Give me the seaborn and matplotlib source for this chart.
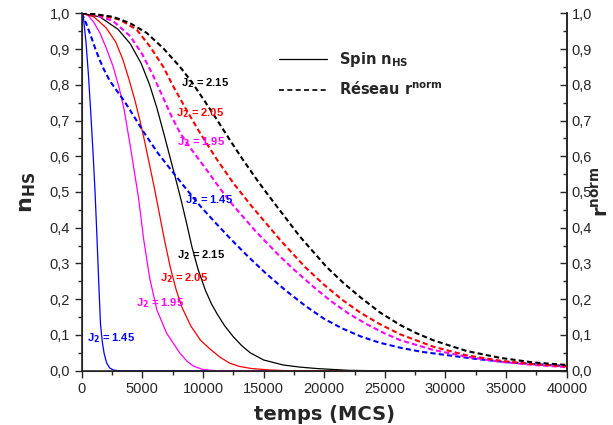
import matplotlib
matplotlib.use("Agg")
import matplotlib.pyplot as plt
from matplotlib.lines import Line2D
from matplotlib.ticker import FuncFormatter, MultipleLocator
import seaborn as sns

# spin curves (solid)
spin_145_t = [0, 150, 350, 550, 750, 950, 1100, 1250, 1400, 1550, 1700, 1850, 2050, 2300, 2600, 3000, 40000]
spin_145_n = [1.0, 0.985, 0.92, 0.83, 0.72, 0.6, 0.5, 0.38, 0.25, 0.13, 0.08, 0.048, 0.022, 0.008, 0.002, 0.0, 0.0]

spin_195_t = [0, 500, 1000, 1500, 2000, 2600, 3100, 3500, 4000, 4350, 4700, 5100, 5600, 6200, 7000, 8100,
              8700, 9200, 10000, 11000, 40000]
spin_195_n = [1.0, 0.995, 0.975, 0.945, 0.905, 0.85, 0.79, 0.73, 0.63, 0.555, 0.48, 0.37, 0.26, 0.17, 0.105, 0.049,
              0.026, 0.013, 0.003, 0.0, 0.0]

spin_205_t = [0, 1000, 2000, 2800, 3400, 3900, 4400, 4800, 5200, 5600, 6000, 6400, 6800, 7300, 7800, 8300,
              9000, 9800, 10600, 11400, 12200, 13000, 14000, 15500, 17000, 40000]
spin_205_n = [1.0, 0.99, 0.96, 0.92, 0.87, 0.815, 0.755, 0.7, 0.64, 0.575, 0.51, 0.44, 0.37, 0.29, 0.225, 0.175,
              0.125, 0.085, 0.06, 0.038, 0.021, 0.012, 0.006, 0.002, 0.0, 0.0]

spin_215_t = [0, 1500, 3000, 4000, 4900, 5600, 6200, 6800, 7300, 7800, 8250, 8700, 9100, 9600, 10200, 10700,
              11200, 11800, 12500, 13200, 13900, 15000, 16600, 18000, 19400, 22000, 24000, 40000]
spin_215_n = [1.0, 0.99, 0.955, 0.915, 0.86, 0.8, 0.735, 0.66, 0.595, 0.53, 0.47, 0.405, 0.345, 0.283, 0.225, 0.187,
              0.157, 0.125, 0.095, 0.07, 0.05, 0.03, 0.016, 0.01, 0.006, 0.001, 0.0, 0.0]

# lattice curves (dashed)
res_145_t = [0, 250, 500, 800, 1100, 1450, 1800, 2300, 2900, 3500, 4300, 5100, 6300, 7570, 8700, 9790, 11000,
             12300, 13700, 15200, 16800, 18500, 20000, 21500, 23000, 24500, 26300, 28000, 30000, 32500, 35000,
             37500, 40000]
res_145_r = [1.0, 0.982, 0.96, 0.932, 0.903, 0.872, 0.845, 0.812, 0.783, 0.755, 0.712, 0.668, 0.608, 0.553, 0.505,
             0.46, 0.415, 0.368, 0.32, 0.272, 0.225, 0.18, 0.145, 0.118, 0.096, 0.079, 0.064, 0.053, 0.044, 0.033,
             0.024, 0.018, 0.013]

res_195_t = [0, 1200, 2600, 4000, 5000, 5900, 6700, 7400, 8100, 9200, 10300, 11400, 12500, 14400, 16400, 17500,
             19000, 20500, 22000, 23500, 25000, 26300, 29000, 31750, 34500, 37250, 40000]
res_195_r = [1.0, 0.995, 0.978, 0.936, 0.885, 0.825, 0.765, 0.712, 0.666, 0.612, 0.562, 0.51, 0.462, 0.388, 0.318,
             0.283, 0.238, 0.196, 0.16, 0.13, 0.104, 0.085, 0.058, 0.039, 0.025, 0.016, 0.01]

res_205_t = [0, 1500, 3160, 4540, 5630, 6730, 7560, 8500, 9760, 11130, 12500, 14020, 16360, 18420, 20000, 21500,
             23000, 24600, 26250, 29000, 31750, 34500, 37250, 40000]
res_205_r = [1.0, 0.995, 0.982, 0.954, 0.907, 0.85, 0.795, 0.738, 0.665, 0.592, 0.525, 0.46, 0.366, 0.29, 0.24,
             0.198, 0.162, 0.13, 0.102, 0.067, 0.043, 0.028, 0.018, 0.012]

res_215_t = [0, 1000, 2600, 4000, 5360, 6730, 8110, 9070, 10030, 11100, 12230, 13300, 14430, 15300, 16200, 18000,
             20200, 21600, 23000, 24600, 26250, 27600, 29000, 31750, 34500, 37250, 40000]
res_215_r = [1.0, 0.998, 0.99, 0.972, 0.945, 0.902, 0.85, 0.808, 0.76, 0.705, 0.645, 0.59, 0.535, 0.495, 0.455,
             0.375, 0.29, 0.245, 0.205, 0.163, 0.128, 0.105, 0.085, 0.055, 0.036, 0.023, 0.016]

j2_values = ["1.45", "1.95", "2.05", "2.15"]
colors = ["#0000ff", "#ff00ff", "#ff0000", "#000000"]

# label anchors (data coords)
spin_label_pos = [(470, 0.092), (4480, 0.189), (6460, 0.259), (7830, 0.324)]
res_label_pos = [(8520, 0.478), (7820, 0.641), (7800, 0.72), (8200, 0.805)]

sns.set_style("ticks")
plt.rcParams["font.family"] = ["Liberation Sans", "DejaVu Sans"]
plt.rcParams["mathtext.default"] = "bf"

fig = plt.figure(figsize=(6.13, 4.25), dpi=100)
ax = fig.add_axes([0.1333, 0.1278, 0.7912, 0.8409])

spin = [(spin_145_t, spin_145_n), (spin_195_t, spin_195_n), (spin_205_t, spin_205_n), (spin_215_t, spin_215_n)]
res = [(res_145_t, res_145_r), (res_195_t, res_195_r), (res_205_t, res_205_r), (res_215_t, res_215_r)]

for (t, n), c in zip(spin, colors):
    sns.lineplot(x=t, y=n, color=c, linewidth=0.9, sort=False, estimator=None, ax=ax)
for (t, r), c in zip(res, colors):
    sns.lineplot(x=t, y=r, color=c, linewidth=1.5, linestyle=(0, (2.5, 1.5)),
                 sort=False, estimator=None, ax=ax)

for (x, y), c, j in zip(spin_label_pos + res_label_pos, colors + colors, j2_values + j2_values):
    ax.text(x, y, r"J$_2$ = " + j, color=c, fontsize=8, fontweight="bold",
            va="center", ha="left")

ax.set_xlim(0, 40000)
ax.set_ylim(0, 1.0)
ax.xaxis.set_major_locator(MultipleLocator(5000))
ax.xaxis.set_minor_locator(MultipleLocator(2500))
ax.yaxis.set_major_locator(MultipleLocator(0.1))
ax.yaxis.set_minor_locator(MultipleLocator(0.05))
comma = FuncFormatter(lambda v, p: f"{v:.1f}".replace(".", ","))
ax.yaxis.set_major_formatter(comma)
ax.tick_params(axis="both", which="major", direction="out", length=5, width=1, labelsize=10.5)
ax.tick_params(axis="both", which="minor", direction="out", length=3, width=1)
ax.spines["top"].set_visible(False)
for s in ["left", "bottom", "right"]:
    ax.spines[s].set_linewidth(1.2)

ax2 = ax.twinx()
ax2.set_ylim(0, 1.0)
ax2.yaxis.set_major_locator(MultipleLocator(0.1))
ax2.yaxis.set_minor_locator(MultipleLocator(0.05))
ax2.yaxis.set_major_formatter(comma)
ax2.tick_params(axis="y", which="major", direction="in", length=5, width=1, labelsize=10.5)
ax2.tick_params(axis="y", which="minor", direction="in", length=3, width=1)
ax2.spines["top"].set_visible(False)
ax2.spines["right"].set_linewidth(1.2)
ax2.set_ylabel(r"r$^{norm}$", fontsize=14, fontweight="bold", family="DejaVu Sans", labelpad=0)

ax.set_xlabel("temps (MCS)", fontsize=14, fontweight="bold", family="DejaVu Sans", labelpad=6)
ax.set_ylabel(r"n$_{HS}$", fontsize=16, fontweight="bold", family="DejaVu Sans", labelpad=8)

handles = [Line2D([], [], color="black", linewidth=0.9),
           Line2D([], [], color="black", linewidth=1.2, linestyle=(0, (3, 2)))]
ax.legend(handles, [r"Spin n$_{HS}$", r"Réseau r$^{norm}$"], loc="upper left",
          bbox_to_anchor=(0.38, 0.935), frameon=False, handlelength=3.3,
          prop={"family": "DejaVu Sans", "weight": "bold", "size": 10.5}, labelspacing=0.8)

fig.savefig("out.png", dpi=100)
